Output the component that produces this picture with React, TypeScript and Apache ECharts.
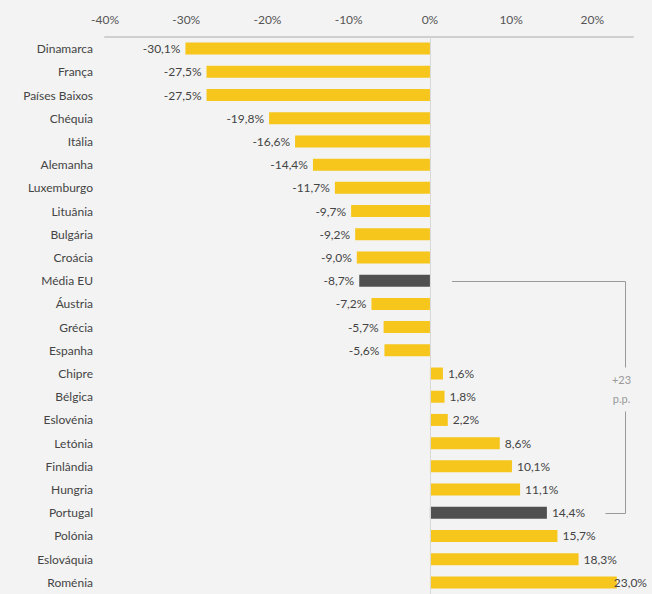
import React, { useEffect, useRef } from "react";
import * as echarts from "echarts";

const categories = [
  "Dinamarca", "França", "Países Baixos", "Chéquia", "Itália", "Alemanha", "Luxemburgo",
  "Lituânia", "Bulgária", "Croácia", "Média EU", "Áustria", "Grécia", "Espanha", "Chipre",
  "Bélgica", "Eslovénia", "Letónia", "Finlândia", "Hungria", "Portugal", "Polónia",
  "Eslováquia", "Roménia",
];
const values = [
  -30.1, -27.5, -27.5, -19.8, -16.6, -14.4, -11.7, -9.7, -9.2, -9.0, -8.7, -7.2, -5.7, -5.6,
  1.6, 1.8, 2.2, 8.6, 10.1, 11.1, 14.4, 15.7, 18.3, 23.0,
];
const highlighted = ["Média EU", "Portugal"];
const tickValues = [-40, -30, -20, -10, 0, 10, 20];
const bracketText = ["+23", "p.p."];

const YELLOW = "#F6C61C";
const DARK = "#505050";
const FONT = "Lato";

export default function App() {
  const ref = useRef<HTMLDivElement>(null);
  useEffect(() => {
    document.body.style.margin = "0";
    const chart = echarts.init(ref.current!, null, { renderer: "svg" });
    const fmt = (v: number) => v.toFixed(1).replace(".", ",") + "%";
    chart.setOption({
      animation: false,
      backgroundColor: "#F3F3F3",
      grid: { left: 105, right: 19, top: 37, height: 562 },
      xAxis: {
        type: "value",
        position: "top",
        min: -40,
        max: 25,
        interval: 10,
        axisLine: { show: true, lineStyle: { color: "#CFCFCF", width: 2 } },
        axisTick: { show: false },
        splitLine: { show: false },
        axisLabel: {
          margin: 12,
          color: "#555",
          fontFamily: FONT,
          fontSize: 12,
          showMaxLabel: false,
          formatter: (v: number) => (tickValues.includes(v) ? v + "%" : ""),
        },
      },
      yAxis: {
        type: "category",
        data: categories,
        inverse: true,
        axisLine: { show: false },
        axisTick: { show: false },
        axisLabel: { margin: 12, color: "#444", fontFamily: FONT, fontSize: 12 },
      },
      series: [
        {
          type: "bar",
          barWidth: 12,
          data: values.map((v, i) => ({
            value: v,
            itemStyle: { color: highlighted.includes(categories[i]) ? DARK : YELLOW },
            label: { position: v < 0 ? "left" : "right", distance: v > 22 ? -3 : 5 },
          })),
          label: {
            show: true,
            distance: 5,
            color: "#444",
            fontFamily: FONT,
            fontSize: 12,
            formatter: (p: any) => fmt(p.value),
          },
          markLine: {
            silent: true,
            symbol: "none",
            label: { show: false },
            lineStyle: { color: "#D8D8D8", type: "solid", width: 1 },
            data: [{ xAxis: 0 }],
          },
        },
      ],
    });

    const iA = categories.indexOf("Média EU");
    const iB = categories.indexOf("Portugal");
    const pA = chart.convertToPixel({ gridIndex: 0 }, [0, iA]) as number[];
    const pB = chart.convertToPixel({ gridIndex: 0 }, [0, iB]) as number[];
    const xRight = (chart.convertToPixel({ gridIndex: 0 }, [24, iA]) as number[])[0];
    const xStart = pA[0] + 22;
    const yA = Math.round(pA[1]) + 0.5;
    const yB = Math.round(pB[1]) + 0.5;
    const xr = Math.round(xRight) + 0.5;
    const yMid = (yA + yB) / 2 - 8;
    const lineStyle = { stroke: "#9A9A9A", lineWidth: 1 };
    chart.setOption({
      graphic: [
        { type: "line", shape: { x1: xStart, y1: yA, x2: xr, y2: yA }, style: lineStyle },
        { type: "line", shape: { x1: xr, y1: yA, x2: xr, y2: yMid - 22 }, style: lineStyle },
        { type: "line", shape: { x1: xr, y1: yMid + 22, x2: xr, y2: yB }, style: lineStyle },
        { type: "line", shape: { x1: xr - 20, y1: yB, x2: xr, y2: yB }, style: lineStyle },
        {
          type: "text",
          x: xr - 4,
          y: yMid - 10,
          style: { text: bracketText[0], fill: "#999", fontFamily: FONT, fontSize: 11, align: "center", verticalAlign: "middle" },
        },
        {
          type: "text",
          x: xr - 4,
          y: yMid + 9,
          style: { text: bracketText[1], fill: "#999", fontFamily: FONT, fontSize: 11, align: "center", verticalAlign: "middle" },
        },
      ],
    });
    return () => chart.dispose();
  }, []);
  return <div ref={ref} style={{ width: 652, height: 594, background: "#F3F3F3" }} />;
}
